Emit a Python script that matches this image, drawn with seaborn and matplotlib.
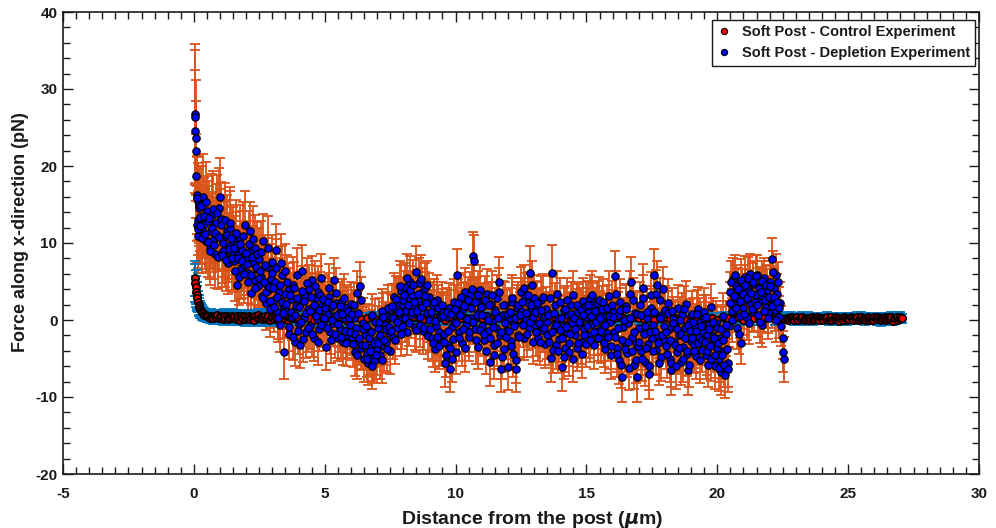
import matplotlib
matplotlib.use("Agg")
import matplotlib.pyplot as plt
from matplotlib.ticker import MultipleLocator
from matplotlib.lines import Line2D
import seaborn as sns

# ---------------- depletion experiment ----------------
depl_x = [
    0.04, 0.05, 0.06, 0.07, 0.09, 0.10, 0.12, 0.14, 0.16, 0.18,
    0.20, 0.25, 0.30, 0.35, 0.40, 0.45, 0.50,
    0.55, 0.60, 0.65, 0.70, 0.75, 0.80, 0.85, 0.90, 0.95, 1.00,
    1.05, 1.10, 1.15, 1.20, 1.25, 1.30, 1.35, 1.40, 1.45, 1.50,
    1.55, 1.60, 1.65, 1.70, 1.75, 1.80, 1.85, 1.90, 1.95, 2.00,
    2.05, 2.10, 2.15, 2.20, 2.25, 2.30, 2.35, 2.40, 2.45, 2.50,
    2.55, 2.60, 2.65, 2.70, 2.75, 2.80, 2.85, 2.90, 2.95, 3.00,
    3.05, 3.10, 3.15, 3.20, 3.25, 3.30, 3.35, 3.40, 3.45, 3.50,
    3.55, 3.60, 3.65, 3.70, 3.75, 3.80, 3.85, 3.90, 3.95, 4.00,
    4.05, 4.10, 4.15, 4.20, 4.25, 4.30, 4.35, 4.40, 4.45, 4.50,
    4.55, 4.60, 4.65, 4.70, 4.75, 4.80, 4.85, 4.90, 4.95, 5.00,
    5.05, 5.10, 5.15, 5.20, 5.25, 5.30, 5.35, 5.40, 5.45, 5.50,
    5.55, 5.60, 5.65, 5.70, 5.75, 5.80, 5.85, 5.90, 5.95, 6.00,
    6.05, 6.10, 6.15, 6.20, 6.25, 6.30, 6.35, 6.40, 6.45, 6.50,
    6.55, 6.60, 6.65, 6.70, 6.75, 6.80, 6.85, 6.90, 6.95, 7.00,
    7.05, 7.10, 7.15, 7.20, 7.25, 7.30, 7.35, 7.40, 7.45, 7.50,
    7.55, 7.60, 7.65, 7.70, 7.75, 7.80, 7.85, 7.90, 7.95, 8.00,
    8.05, 8.10, 8.15, 8.20, 8.25, 8.30, 8.35, 8.40, 8.45, 8.50,
    8.55, 8.60, 8.65, 8.70, 8.75, 8.80, 8.85, 8.90, 8.95, 9.00,
    9.05, 9.10, 9.15, 9.20, 9.25, 9.30, 9.35, 9.40, 9.45, 9.50,
    9.55, 9.60, 9.65, 9.70, 9.75, 9.80, 9.85, 9.90, 9.95, 10.00,
    10.05, 10.10, 10.15, 10.20, 10.25, 10.30, 10.35, 10.40, 10.45, 10.50,
    10.55, 10.60, 10.65, 10.70, 10.75, 10.80, 10.85, 10.90, 10.95, 11.00,
    11.05, 11.10, 11.15, 11.20, 11.25, 11.30, 11.35, 11.40, 11.45, 11.50,
    11.55, 11.60, 11.65, 11.70, 11.75, 11.80, 11.85, 11.90, 11.95, 12.00,
    12.05, 12.10, 12.15, 12.20, 12.25, 12.30, 12.35, 12.40, 12.45, 12.50,
    12.55, 12.60, 12.65, 12.70, 12.75, 12.80, 12.85, 12.90, 12.95, 13.00,
    13.05, 13.10, 13.15, 13.20, 13.25, 13.30, 13.35, 13.40, 13.45, 13.50,
    13.55, 13.60, 13.65, 13.70, 13.75, 13.80, 13.85, 13.90, 13.95, 14.00,
    14.05, 14.10, 14.15, 14.20, 14.25, 14.30, 14.35, 14.40, 14.45, 14.50,
    14.55, 14.60, 14.65, 14.70, 14.75, 14.80, 14.85, 14.90, 14.95, 15.00,
    15.05, 15.10, 15.15, 15.20, 15.25, 15.30, 15.35, 15.40, 15.45, 15.50,
    15.55, 15.60, 15.65, 15.70, 15.75, 15.80, 15.85, 15.90, 15.95, 16.00,
    16.05, 16.10, 16.15, 16.20, 16.25, 16.30, 16.35, 16.40, 16.45, 16.50,
    16.55, 16.60, 16.65, 16.70, 16.75, 16.80, 16.85, 16.90, 16.95, 17.00,
    17.05, 17.10, 17.15, 17.20, 17.25, 17.30, 17.35, 17.40, 17.45, 17.50,
    17.55, 17.60, 17.65, 17.70, 17.75, 17.80, 17.85, 17.90, 17.95, 18.00,
    18.05, 18.10, 18.15, 18.20, 18.25, 18.30, 18.35, 18.40, 18.45, 18.50,
    18.55, 18.60, 18.65, 18.70, 18.75, 18.80, 18.85, 18.90, 18.95, 19.00,
    19.05, 19.10, 19.15, 19.20, 19.25, 19.30, 19.35, 19.40, 19.45, 19.50,
    19.55, 19.60, 19.65, 19.70, 19.75, 19.80, 19.85, 19.90, 19.95, 20.00,
    20.05, 20.10, 20.15, 20.20, 20.25, 20.30, 20.35, 20.40,
    20.45, 20.50, 20.55, 20.60, 20.65, 20.70, 20.75, 20.80, 20.85, 20.90,
    20.95, 21.00, 21.05, 21.10, 21.15, 21.20, 21.25, 21.30, 21.35, 21.40,
    21.45, 21.50, 21.55, 21.60, 21.65, 21.70, 21.75, 21.80, 21.85, 21.90,
    21.95, 22.00, 22.05, 22.10, 22.15, 22.20, 22.25, 22.30, 22.35,
    22.40, 22.45, 22.50, 22.52, 22.55,
    # second bead set
    0.11, 0.13, 0.15, 0.17, 0.225, 0.275, 0.325, 0.375, 0.425, 0.475,
    0.525, 0.575, 0.625, 0.675, 0.725, 0.775, 0.825, 0.875, 0.925, 0.975,
    1.025, 1.075, 1.125, 1.175, 1.225, 1.275, 1.325, 1.375, 1.425, 1.475,
    1.525, 1.575, 1.625, 1.675, 1.725, 1.775, 1.825, 1.875, 1.925, 1.975,
    2.025, 2.075, 2.125, 2.175, 2.225, 2.275, 2.325, 2.375, 2.425, 2.475,
    2.525, 2.575, 2.625, 2.675, 2.725, 2.775, 2.825, 2.875, 2.925, 2.975,
    3.025, 3.075, 3.125, 3.175, 3.225, 3.275, 3.325, 3.375, 3.425, 3.475,
    3.525, 3.575, 3.625, 3.675, 3.725, 3.775, 3.825, 3.875, 3.925, 3.975,
    4.025, 4.075, 4.125, 4.175, 4.225, 4.275, 4.325, 4.375, 4.425, 4.475,
    4.525, 4.575, 4.625, 4.675, 4.725, 4.775, 4.825, 4.875, 4.925, 4.975,
    5.025, 5.075, 5.125, 5.175, 5.225, 5.275, 5.325, 5.375, 5.425, 5.475,
    5.525, 5.575, 5.625, 5.675, 5.725, 5.775, 5.825, 5.875, 5.925, 5.975,
    6.025, 6.075, 6.125, 6.175, 6.225, 6.275, 6.325, 6.375, 6.425, 6.475,
    6.525, 6.575, 6.625, 6.675, 6.725, 6.775, 6.825, 6.875, 6.925, 6.975,
    7.025, 7.075, 7.125, 7.175, 7.225, 7.275, 7.325, 7.375, 7.425, 7.475,
    7.525, 7.575, 7.625, 7.675, 7.725, 7.775, 7.825, 7.875, 7.925, 7.975,
    8.025, 8.075, 8.125, 8.175, 8.225, 8.275, 8.325, 8.375, 8.425, 8.475,
    8.525, 8.575, 8.625, 8.675, 8.725, 8.775, 8.825, 8.875, 8.925, 8.975,
    9.025, 9.075, 9.125, 9.175, 9.225, 9.275, 9.325, 9.375, 9.425, 9.475,
    9.525, 9.575, 9.625, 9.675, 9.725, 9.775, 9.825, 9.875, 9.925, 9.975,
    10.025, 10.075, 10.125, 10.175, 10.225, 10.275, 10.325, 10.375, 10.425, 10.475,
    10.525, 10.575, 10.625, 10.675, 10.725, 10.775, 10.825, 10.875, 10.925, 10.975,
    11.025, 11.075, 11.125, 11.175, 11.225, 11.275, 11.325, 11.375, 11.425, 11.475,
    11.525, 11.575, 11.625, 11.675, 11.725, 11.775, 11.825, 11.875, 11.925, 11.975,
    12.025, 12.075, 12.125, 12.175, 12.225, 12.275, 12.325, 12.375, 12.425, 12.475,
    12.525, 12.575, 12.625, 12.675, 12.725, 12.775, 12.825, 12.875, 12.925, 12.975,
    13.025, 13.075, 13.125, 13.175, 13.225, 13.275, 13.325, 13.375, 13.425, 13.475,
    13.525, 13.575, 13.625, 13.675, 13.725, 13.775, 13.825, 13.875, 13.925, 13.975,
    14.025, 14.075, 14.125, 14.175, 14.225, 14.275, 14.325, 14.375, 14.425, 14.475,
    14.525, 14.575, 14.625, 14.675, 14.725, 14.775, 14.825, 14.875, 14.925, 14.975,
    15.025, 15.075, 15.125, 15.175, 15.225, 15.275, 15.325, 15.375, 15.425, 15.475,
    15.525, 15.575, 15.625, 15.675, 15.725, 15.775, 15.825, 15.875, 15.925, 15.975,
    16.025, 16.075, 16.125, 16.175, 16.225, 16.275, 16.325, 16.375, 16.425, 16.475,
    16.525, 16.575, 16.625, 16.675, 16.725, 16.775, 16.825, 16.875, 16.925, 16.975,
    17.025, 17.075, 17.125, 17.175, 17.225, 17.275, 17.325, 17.375, 17.425, 17.475,
    17.525, 17.575, 17.625, 17.675, 17.725, 17.775, 17.825, 17.875, 17.925, 17.975,
    18.025, 18.075, 18.125, 18.175, 18.225, 18.275, 18.325, 18.375, 18.425, 18.475,
    18.525, 18.575, 18.625, 18.675, 18.725, 18.775, 18.825, 18.875, 18.925, 18.975,
    19.025, 19.075, 19.125, 19.175, 19.225, 19.275, 19.325, 19.375, 19.425, 19.475,
    19.525, 19.575, 19.625, 19.675, 19.725, 19.775, 19.825, 19.875, 19.925, 19.975,
    20.025, 20.075, 20.125, 20.175, 20.225, 20.275, 20.325, 20.375, 20.425,
    20.475, 20.525, 20.575, 20.625, 20.675, 20.725, 20.775, 20.825, 20.875, 20.925, 20.975,
    21.025, 21.075, 21.125, 21.175, 21.225, 21.275, 21.325, 21.375, 21.425, 21.475,
    21.525, 21.575, 21.625, 21.675, 21.725, 21.775, 21.825, 21.875, 21.925, 21.975,
    22.025, 22.075, 22.125, 22.175, 22.225, 22.275, 22.325, 22.375,
]
depl_y = [
    26.8, 26.3, 24.5, 23.7, 22.0, 18.7, 16.2, 15.4, 13.0, 14.6,
    15.0, 13.4, 11.8, 16.0, 12.5, 10.2, 14.2,
    12.8, 9.3, 11.5, 13.7, 10.4, 8.6, 12.6, 11.0, 14.6, 16.0,
    13.1, 9.0, 10.8, 8.2, 11.6, 7.4, 9.6, 11.9, 8.8, 10.3,
    7.6, 9.8, 4.6, 8.4, 10.6, 6.8, 9.1, 7.2, 12.3, 8.0,
    6.1, 8.8, 11.5, 3.5, 7.4, 5.2, 9.3, 6.6, 4.4, 7.9,
    5.6, 3.1, 10.2, 4.8, 2.2, 6.9, 3.9, 1.4, 5.3, 7.5,
    2.6, 4.9, 9.1, 1.1, 3.6, -0.6, 5.8, 2.0, -4.2, 6.3,
    1.2, 3.9, -1.8, 2.7, 0.4, 4.6, -2.9, 1.8, 5.9, -0.5,
    -3.2, 2.3, 6.3, 0.2, 3.1, -1.6, 1.4, 4.0, -0.8, 5.2,
    1.0, -2.4, 2.8, 0.1, 3.7, -1.2, 5.5, 1.9, -0.3, 2.4,
    -3.5, 0.8, 3.0, -1.5, 1.7, -0.4, 5.2, 0.5, 2.2, -2.3,
    0.9, -1.1, 2.5, -2.8, 0.2, 1.6, -1.9, 0.6, -0.7, 2.1,
    -2.2, 0.3, -4.1, -1.0, 3.5, -2.9, 4.4, -3.6, -0.4, -5.1,
    -2.0, -4.4, -5.6, -1.3, -3.5, 0.6, -4.8, -5.3, -2.6, -3.9,
    -1.1, -4.5, -2.3, 1.2, -3.4, -0.6, -2.9, 0.5, -1.7, -4.0,
    0.4, -2.2, 3.0, 1.5, -1.0, 2.4, 0.0, 3.8, -0.8, 1.9,
    4.3, 1.2, -1.6, 2.9, 5.0, 0.7, 3.3, 1.8, -0.9, 6.2,
    2.5, 4.8, 0.4, 3.6, -1.4, 2.0, 4.2, 0.9, -2.1, 3.0,
    0.2, -2.4, 1.8, -3.8, -0.8, 2.6, -1.6, 0.6, -2.9, 1.1,
    -1.8, -5.6, 0.4, -3.2, 1.6, -6.3, -0.9, -2.5, 2.3, -4.1,
    5.9, 0.8, -1.5, 2.7, -3.0, 1.4, 3.6, -0.6, 2.0, -2.2,
    3.2, 0.3, 8.3, 7.7, -1.2, 2.5, -3.5, 1.0, 3.9, -0.8,
    1.8, -2.6, 0.5, 3.4, -1.4, -5.5, 2.1, -0.3, -3.2, 1.3,
    -1.0, 2.8, 5.0, -2.0, -6.3, 0.7, -3.8, 1.9, -1.3, -6.1,
    0.2, -2.7, 2.4, -4.4, -0.5, -6.3, 1.5, -1.9, 0.9, 3.7,
    1.2, -2.3, 3.0, 0.0, 2.2, -1.0, 6.1, 1.6, -2.8, 2.8,
    -0.6, 1.8, -2.4, 0.9, 2.6, -1.3, 0.3, -3.1, 1.4, -0.2,
    -2.0, 0.8, -4.9, 6.1, -1.1, 1.9, -3.3, 0.1, -2.5, 2.4,
    -6.1, -0.8, 1.3, -3.6, -1.5, 0.6, -4.2, 2.0, -0.4, 3.3,
    -1.9, 0.9, -3.7, 1.7, -0.6, -2.8, 2.5, -1.2, 0.4, -3.1,
    1.1, -2.0, 2.8, -0.5, 1.9, -3.2, 0.2, 2.2, -1.4, 0.8,
    -2.5, 1.4, -0.9, -3.8, 0.5, -1.7, 3.1, -0.3, -4.5, 1.0,
    -1.5, 5.7, -3.6, 0.6, -5.2, 2.4, -7.4, -0.9, -2.8, 1.8,
    -4.3, -0.4, 3.4, 5.0, -2.2, -5.8, 0.9, -3.0, -7.4, -1.1,
    2.0, -4.0, 4.1, -1.8, -5.5, 0.2, -3.1, -7.0, 1.5, -2.4,
    -0.6, 5.9, -3.9, 4.5, -1.9, 2.6, -4.8, 0.7, -2.6, 1.3,
    -3.4, 2.2, -1.2, -5.0, -6.5, 0.1, -2.9, -0.8, -4.1, 1.5,
    -2.0, -5.4, 0.6, -3.5, -1.1, 2.1, -4.4, -6.5, -0.3, -2.7,
    0.8, -3.3, -1.0, -4.7, 1.4, -2.2, -0.2, -3.9, -1.6, 0.3,
    -4.6, -1.9, -5.8, -0.7, 1.7, -3.0, -2.1, -6.0, -0.4, -3.6,
    -5.1, -2.4, -6.8, 0.5, -4.0, -7.1, -1.8, -5.6,
    -0.8, 3.6, 1.2, 5.3, 2.0, 4.4, -1.1, 2.9, 0.5, -3.0,
    4.0, 1.6, 5.6, 2.6, 0.2, 3.8, 6.0, 2.1, 4.7, 1.0,
    3.2, 5.9, 0.6, 2.4, 4.3, -0.7, 3.0, 5.5, 1.7, 3.9,
    0.9, 5.0, 2.7, 7.9, 4.2, 1.3, 5.8, 3.4, 0.4,
    2.2, -0.8, -2.3, -4.1, -5.1,
    # second bead set
    15.8, 12.4, 10.9, 11.8, 12.2, 14.8, 10.6, 13.5, 11.2, 15.3,
    10.1, 13.2, 8.9, 12.0, 14.4, 9.7, 11.3, 13.9, 8.2, 10.8,
    12.4, 8.5, 10.0, 13.0, 7.8, 11.1, 9.2, 12.6, 10.6, 8.0,
    9.4, 6.3, 11.3, 8.1, 5.6, 9.9, 7.7, 10.9, 6.0, 8.7,
    7.3, 4.9, 9.9, 5.8, 8.2, 10.5, 4.1, 6.9, 8.6, 5.5,
    6.4, 8.8, 2.9, 5.0, 7.1, 3.6, 9.4, 4.3, 2.5, 6.1,
    4.2, 1.7, 6.8, 3.0, 0.3, 4.5, 7.4, 2.3, 0.9, 3.4,
    2.1, 5.0, -0.9, 3.3, 1.0, -2.2, 4.1, 0.6, 2.9, -1.4,
    1.7, -0.2, 3.8, -2.5, 2.5, 0.9, 4.8, -1.1, 1.2, 3.0,
    -1.8, 2.0, 4.4, 0.5, -2.9, 1.3, 3.2, -0.6, 2.7, 0.2,
    1.6, -1.0, 2.3, 4.1, -2.6, 0.0, 1.9, -1.8, 3.5, 0.7,
    -0.5, 1.8, -2.2, 0.8, 2.9, -1.4, -3.0, 1.2, 0.3, -1.6,
    0.8, -3.1, 1.9, -1.8, -4.6, 0.9, -2.4, 2.6, -3.3, -1.2,
    -3.2, -0.8, -5.0, -2.3, -4.0, -1.6, -6.0, -3.0, -0.2, -4.6,
    -3.0, -0.3, -2.0, -5.2, 0.4, -2.6, -1.2, -3.8, 1.6, -0.9,
    -1.4, 1.8, 0.2, -2.6, 2.7, -0.2, 1.1, 4.4, -1.8, 2.6,
    3.2, 0.2, 5.4, 2.0, -0.4, 3.9, 1.1, 4.6, 2.4, -1.3,
    1.2, 3.4, -0.6, 5.3, 1.7, -1.0, 3.1, 2.2, 4.5, 0.0,
    -1.2, 1.0, -3.0, 2.3, -0.1, -2.2, 1.5, -3.4, 0.4, 2.0,
    0.5, -2.8, -4.5, 1.1, -1.4, -3.6, 0.8, -5.0, -0.3, 1.4,
    -0.4, 2.2, -2.4, 0.6, 3.0, -1.2, 1.8, -3.6, 0.1, 2.6,
    -1.6, 1.6, 4.0, -0.2, 2.3, -2.6, 0.6, 3.3, -1.3, 1.7,
    0.6, -1.8, 2.6, -4.0, 0.0, 1.9, -2.4, 3.2, -0.9, -4.6,
    1.1, -3.0, 0.2, 3.6, -1.6, -4.8, 2.0, -0.4, -2.2, 0.8,
    -1.4, 1.0, -3.4, 2.9, -0.8, 0.3, -5.2, 1.9, -2.2, 0.7,
    2.4, -0.6, 4.2, 0.9, -1.8, 3.3, -0.2, 2.0, 4.6, 0.4,
    1.0, -1.6, 2.2, -0.4, -2.8, 1.3, 3.0, -1.0, 0.5, -2.0,
    0.6, -2.8, 2.8, -1.6, -3.9, 0.9, -0.6, 3.4, -4.0, -1.3,
    0.2, -2.4, -4.8, 1.4, -0.9, 2.6, -3.0, -1.8, 0.8, -5.0,
    0.3, -1.2, 2.0, -3.0, -0.2, 1.3, -4.4, 0.7, -1.9, 1.8,
    -0.8, 2.0, -2.6, 0.5, 3.3, -1.6, 1.2, -0.2, -2.4, 2.6,
    0.2, -1.4, 2.4, -3.0, -0.6, 1.6, -2.2, 0.5, -3.4, 2.0,
    0.4, -2.2, 3.4, -4.4, -1.0, 1.3, -5.8, -2.6, 0.0, -3.8,
    1.4, -2.8, -6.2, 0.2, -4.0, 2.6, -1.6, -5.2, 0.8, -3.4,
    -2.8, 0.6, -5.0, 2.9, -0.8, -3.6, 1.0, -6.0, -1.6, 3.2,
    -4.0, 1.0, -1.4, 3.4, -3.0, -5.6, 0.2, -2.0, 4.0, -0.8,
    -1.6, -4.4, 0.9, -2.6, -5.6, 1.2, -0.4, -3.2, -6.0, -1.2,
    -3.6, 0.0, -1.8, -5.0, 1.4, -2.4, -4.0, -0.6, -5.8, -1.4,
    -2.4, -0.2, -4.0, -1.4, 0.8, -3.0, -5.2, -0.8, -2.6, 1.1,
    -2.8, 0.4, -4.0, -1.2, -3.4, -5.0, -0.2, -2.4, -4.6, -1.0,
    -3.0, -6.2, -1.2, -4.6, -2.6, -5.8, -0.6, -3.8, -6.4,
    2.2, 5.0, 0.0, 3.1, 5.8, 1.6, 4.0, -1.8, 2.5, 5.2, 3.4,
    0.8, 4.5, 2.9, 5.4, -0.4, 3.5, 1.4, 4.9, 2.3, 5.7,
    2.0, 4.1, -0.2, 3.6, 5.1, 1.2, 2.6, 4.6, 0.3, 3.0,
    4.4, 1.8, 6.2, 3.0, 0.0, 2.4, 4.9, 1.5,
]
depl_err = [
    9.0, 8.8, 8.0, 7.5, 6.5, 5.5, 5.0, 5.0, 4.5, 5.0,
    5.0, 4.5, 4.5, 5.5, 4.5, 4.0, 4.5,
    4.6, 4.0, 4.8, 5.2, 4.2, 4.5, 5.0, 4.4, 5.1, 5.0,
    4.8, 4.2, 4.5, 3.9, 4.6, 4.0, 4.3, 4.9, 3.8, 4.4,
    4.0, 4.2, 4.6, 3.8, 4.4, 4.1, 3.7, 4.3, 4.5, 3.9,
    3.9, 4.1, 3.8, 4.2, 3.6, 4.0, 4.3, 3.7, 3.9, 4.0,
    3.7, 3.9, 3.6, 4.0, 3.5, 3.8, 3.4, 3.6, 3.9, 3.5,
    3.5, 3.7, 3.4, 3.6, 3.3, 3.5, 3.8, 3.2, 3.4, 3.6,
    3.3, 3.5, 3.2, 3.4, 3.0, 3.6, 3.1, 3.3, 3.5, 3.2,
    3.0, 3.2, 3.4, 2.9, 3.1, 3.3, 2.8, 3.2, 3.0, 3.1,
    3.1, 2.9, 3.2, 3.0, 3.3, 2.8, 3.1, 3.0, 2.9, 3.2,
    3.0, 2.8, 3.1, 2.9, 3.2, 3.0, 2.9, 3.1, 2.8, 3.0,
    2.9, 3.1, 2.8, 3.0, 3.2, 2.9, 3.0, 2.8, 3.1, 2.9,
    3.0, 2.9, 3.2, 3.1, 2.8, 3.0, 3.1, 2.9, 3.2, 3.0,
    3.1, 3.0, 2.9, 3.2, 3.0, 2.8, 3.1, 2.9, 3.0, 3.2,
    2.9, 3.1, 3.0, 2.8, 3.2, 2.9, 3.0, 3.1, 2.8, 3.0,
    3.0, 2.9, 3.1, 3.2, 2.8, 3.0, 2.9, 3.3, 3.0, 3.1,
    3.1, 3.0, 2.9, 3.2, 3.3, 3.0, 3.1, 2.9, 3.0, 3.4,
    3.0, 3.2, 2.9, 3.1, 3.0, 2.8, 3.2, 3.0, 2.9, 3.1,
    3.0, 2.9, 3.1, 3.0, 2.8, 3.2, 2.9, 3.0, 3.1, 2.9,
    3.0, 3.1, 2.9, 3.0, 3.2, 3.0, 2.8, 3.1, 3.0, 2.9,
    3.3, 3.0, 2.9, 3.1, 3.0, 2.8, 3.2, 2.9, 3.0, 3.1,
    3.0, 2.9, 3.1, 3.4, 3.0, 3.1, 2.9, 3.0, 3.2, 2.9,
    3.0, 3.1, 2.9, 3.2, 3.0, 3.1, 2.9, 3.0, 3.1, 2.8,
    3.0, 3.1, 3.2, 2.9, 3.0, 3.1, 2.9, 3.0, 3.1, 3.0,
    2.9, 3.0, 3.1, 3.0, 2.9, 3.1, 3.0, 2.9, 3.1, 3.2,
    3.0, 2.9, 3.1, 3.0, 3.2, 2.9, 3.5, 3.0, 2.9, 3.1,
    3.0, 3.1, 2.9, 3.0, 3.1, 2.9, 3.0, 3.1, 2.9, 3.0,
    3.0, 2.9, 3.1, 3.6, 3.0, 2.9, 3.1, 3.0, 2.9, 3.1,
    3.1, 3.0, 2.9, 3.1, 3.0, 2.9, 3.1, 3.0, 2.9, 3.1,
    3.0, 3.1, 2.9, 3.0, 3.1, 2.9, 3.0, 3.1, 2.9, 3.0,
    3.0, 2.9, 3.1, 3.0, 2.9, 3.1, 3.0, 2.9, 3.1, 3.0,
    3.1, 3.0, 2.9, 3.1, 3.0, 2.9, 3.2, 3.0, 3.1, 2.9,
    3.0, 3.3, 3.1, 3.0, 3.1, 2.9, 3.2, 3.0, 3.1, 2.9,
    3.1, 3.0, 2.9, 3.2, 3.0, 3.1, 2.9, 3.0, 3.2, 3.0,
    3.0, 3.1, 3.2, 3.0, 3.1, 2.9, 3.0, 3.2, 2.9, 3.0,
    3.0, 3.3, 3.1, 3.2, 3.0, 2.9, 3.1, 3.0, 2.9, 3.1,
    3.0, 3.1, 2.9, 3.0, 3.2, 2.9, 3.0, 3.1, 2.9, 3.0,
    3.0, 3.1, 2.9, 3.0, 3.1, 3.0, 2.9, 3.2, 3.0, 2.9,
    3.0, 2.9, 3.1, 3.0, 2.9, 3.1, 3.0, 2.9, 3.1, 3.0,
    3.1, 3.0, 2.9, 3.1, 3.0, 2.9, 3.1, 3.0, 2.9, 3.1,
    3.0, 3.1, 2.9, 3.0, 3.1, 3.0, 2.9, 3.1,
    2.7, 2.6, 2.8, 2.7, 2.6, 2.8, 2.7, 2.6, 2.8, 2.7,
    2.6, 2.8, 2.7, 2.6, 2.8, 2.7, 2.6, 2.8, 2.7, 2.6,
    2.7, 2.6, 2.8, 2.7, 2.6, 2.8, 2.7, 2.6, 2.8, 2.7,
    2.6, 2.7, 2.8, 2.8, 2.6, 2.7, 2.8, 2.6, 2.7,
    2.7, 2.6, 2.8, 2.7, 2.9,
    # second bead set
    5.5, 5.0, 4.8, 5.0, 4.8, 5.2, 4.5, 5.0, 4.6, 5.2,
    4.5, 4.8, 4.3, 4.6, 5.0, 4.4, 4.7, 4.9, 4.2, 4.5,
    4.6, 4.2, 4.4, 4.8, 4.0, 4.5, 4.2, 4.7, 4.3, 4.1,
    4.1, 3.8, 4.3, 4.0, 3.7, 4.2, 3.9, 4.4, 3.8, 4.0,
    4.0, 3.7, 4.2, 3.8, 4.0, 4.3, 3.6, 3.9, 4.1, 3.8,
    3.8, 4.0, 3.5, 3.7, 3.9, 3.6, 4.1, 3.7, 3.5, 3.8,
    3.6, 3.3, 3.7, 3.4, 3.2, 3.5, 3.8, 3.3, 3.2, 3.4,
    3.3, 3.5, 3.1, 3.4, 3.2, 3.0, 3.4, 3.1, 3.3, 3.0,
    3.1, 2.9, 3.2, 3.0, 3.1, 2.9, 3.3, 3.0, 2.9, 3.1,
    3.0, 3.1, 3.2, 2.9, 3.0, 3.1, 3.0, 2.9, 3.1, 3.0,
    3.0, 2.9, 3.1, 3.2, 3.0, 2.9, 3.0, 3.1, 3.2, 2.9,
    3.0, 3.1, 2.9, 3.0, 3.1, 2.9, 3.0, 3.1, 2.9, 3.0,
    3.1, 3.0, 2.9, 3.1, 3.0, 2.9, 3.1, 3.0, 3.1, 2.9,
    3.0, 2.9, 3.1, 3.0, 3.2, 2.9, 3.0, 3.1, 2.9, 3.0,
    3.0, 3.1, 2.9, 3.0, 3.1, 2.9, 3.0, 3.1, 2.9, 3.0,
    3.1, 2.9, 3.0, 3.1, 3.0, 2.9, 3.1, 3.2, 2.9, 3.0,
    3.1, 3.0, 3.2, 2.9, 3.0, 3.1, 2.9, 3.2, 3.0, 2.9,
    3.0, 3.1, 2.9, 3.2, 3.0, 2.9, 3.1, 3.0, 3.1, 2.9,
    3.0, 2.9, 3.1, 3.0, 2.9, 3.1, 3.0, 2.9, 3.1, 3.0,
    3.1, 3.0, 2.9, 3.1, 3.0, 2.9, 3.1, 3.0, 2.9, 3.1,
    3.0, 3.1, 2.9, 3.0, 3.1, 2.9, 3.0, 3.1, 2.9, 3.0,
    3.1, 3.0, 3.2, 2.9, 3.0, 3.1, 2.9, 3.0, 3.1, 3.0,
    3.0, 2.9, 3.1, 3.0, 2.9, 3.1, 3.0, 3.1, 2.9, 3.0,
    3.1, 3.0, 2.9, 3.1, 3.0, 2.9, 3.1, 3.0, 2.9, 3.1,
    3.0, 3.1, 2.9, 3.0, 3.1, 2.9, 3.0, 3.1, 2.9, 3.0,
    3.1, 2.9, 3.0, 3.1, 3.0, 2.9, 3.1, 3.0, 3.1, 2.9,
    3.0, 3.1, 2.9, 3.0, 3.1, 2.9, 3.0, 3.1, 2.9, 3.0,
    3.1, 3.0, 2.9, 3.1, 3.0, 2.9, 3.1, 3.0, 2.9, 3.1,
    3.0, 3.1, 2.9, 3.0, 3.1, 2.9, 3.0, 3.1, 2.9, 3.0,
    3.1, 3.0, 2.9, 3.1, 3.0, 2.9, 3.1, 3.0, 2.9, 3.1,
    3.0, 3.1, 2.9, 3.0, 3.1, 2.9, 3.0, 3.1, 2.9, 3.0,
    3.1, 3.0, 2.9, 3.1, 3.0, 2.9, 3.1, 3.0, 2.9, 3.1,
    3.0, 3.1, 2.9, 3.0, 3.1, 2.9, 3.0, 3.1, 2.9, 3.0,
    3.1, 3.0, 2.9, 3.1, 3.0, 2.9, 3.1, 3.0, 2.9, 3.1,
    3.0, 3.1, 2.9, 3.0, 3.1, 2.9, 3.0, 3.1, 2.9, 3.0,
    3.1, 3.0, 2.9, 3.1, 3.0, 2.9, 3.1, 3.0, 2.9, 3.1,
    3.0, 3.1, 2.9, 3.0, 3.1, 2.9, 3.0, 3.1, 2.9, 3.0,
    3.1, 3.0, 2.9, 3.1, 3.0, 2.9, 3.1, 3.0, 2.9, 3.1,
    3.0, 3.1, 2.9, 3.0, 3.1, 2.9, 3.0, 3.1, 2.9, 3.0,
    3.0, 2.9, 3.1, 3.0, 3.1, 2.9, 3.0, 3.1, 2.9, 3.0,
    3.1, 3.0, 2.9, 3.1, 3.0, 2.9, 3.1, 3.0, 2.9,
    2.7, 2.6, 2.8, 2.7, 2.6, 2.8, 2.7, 2.6, 2.8, 2.7, 2.6,
    2.8, 2.7, 2.6, 2.8, 2.7, 2.6, 2.8, 2.7, 2.6, 2.8,
    2.7, 2.6, 2.8, 2.7, 2.6, 2.8, 2.7, 2.6, 2.8, 2.7,
    2.6, 2.8, 2.7, 2.6, 2.8, 2.7, 2.6, 2.8,
]

# ---------------- control experiment ----------------
ctrl_x = [
    0.03, 0.05, 0.07, 0.09, 0.11, 0.13, 0.15, 0.18, 0.21, 0.24,
    0.27, 0.30, 0.35, 0.40, 0.45, 0.50,
    0.55, 0.60, 0.65, 0.70, 0.75, 0.80, 0.85, 0.90, 0.95, 1.00,
    1.05, 1.10, 1.15, 1.20, 1.25, 1.30, 1.35, 1.40, 1.45, 1.50,
    1.55, 1.60, 1.65, 1.70, 1.75, 1.80, 1.85, 1.90, 1.95, 2.00,
    2.05, 2.10, 2.15, 2.20, 2.25, 2.30, 2.35, 2.40, 2.45, 2.50,
    2.55, 2.60, 2.65, 2.70, 2.75, 2.80, 2.85, 2.90, 2.95, 3.00,
    3.05, 3.10, 3.15, 3.20, 3.25, 3.30, 3.35, 3.40, 3.45, 3.50,
    3.55, 3.60, 3.65, 3.70,
    3.8, 4.0, 4.2, 4.4, 4.6, 4.8, 5.0, 5.2, 5.4, 5.6,
    5.8, 6.0, 6.2, 6.4, 6.6, 6.8, 7.0, 7.2, 7.4, 7.6,
    7.8, 8.0, 8.2, 8.4, 8.6, 8.8, 9.0, 9.2, 9.4, 9.6,
    9.8, 10.0, 10.2, 10.4, 10.6, 10.8, 11.0, 11.2, 11.4, 11.6,
    11.8, 12.0, 12.2, 12.4, 12.6, 12.8, 13.0, 13.2, 13.4, 13.6,
    13.8, 14.0, 14.2, 14.4, 14.6, 14.8, 15.0, 15.2, 15.4, 15.6,
    15.8, 16.0, 16.2, 16.4, 16.6, 16.8, 17.0, 17.2, 17.4, 17.6,
    17.8, 18.0, 18.2, 18.4, 18.6, 18.8, 19.0, 19.2, 19.4, 19.6,
    19.8, 20.0, 20.2, 20.4, 20.6, 20.8, 21.0, 21.2, 21.4, 21.6,
    21.8, 22.0, 22.2, 22.4,
    22.60, 22.65, 22.70, 22.75, 22.80, 22.85, 22.90, 22.95, 23.00, 23.05,
    23.10, 23.15, 23.20, 23.25, 23.30, 23.35, 23.40, 23.45, 23.50, 23.55,
    23.60, 23.65, 23.70, 23.75, 23.80, 23.85, 23.90, 23.95, 24.00, 24.05,
    24.10, 24.15, 24.20, 24.25, 24.30, 24.35, 24.40, 24.45, 24.50, 24.55,
    24.60, 24.65, 24.70, 24.75, 24.80, 24.85, 24.90, 24.95, 25.00, 25.05,
    25.10, 25.15, 25.20, 25.25, 25.30, 25.35, 25.40, 25.45, 25.50, 25.55,
    25.60, 25.65, 25.70, 25.75, 25.80, 25.85, 25.90, 25.95, 26.00, 26.05,
    26.10, 26.15, 26.20, 26.25, 26.30, 26.35, 26.40, 26.45, 26.50, 26.55,
    26.60, 26.65, 26.70, 26.75, 26.80, 26.85, 26.90, 26.95, 27.00, 27.05,
]
ctrl_y = [
    5.4, 4.8, 4.3, 3.7, 3.2, 2.8, 2.4, 2.0, 1.7, 1.4,
    1.2, 1.0, 0.85, 0.7, 0.62, 0.55,
    0.50, 0.30, 0.58, 0.45, 0.20, 0.52, 0.36, 0.60, 0.25, 0.47,
    0.35, 0.10, 0.55, 0.32, 0.48, 0.15, 0.44, 0.28, 0.57, 0.22,
    0.40, 0.12, 0.50, 0.30, 0.05, 0.46, 0.26, 0.53, 0.18, 0.38,
    0.28, 0.55, 0.10, 0.42, 0.33, 0.02, 0.48, 0.24, 0.60, 0.20,
    0.36, 0.08, 0.45, 0.58, 0.15, 0.32, 0.50, 0.04, 0.40, 0.27,
    0.18, 0.52, 0.30, 0.06, 0.44, 0.12, 0.38, 0.25, 0.55, 0.16,
    0.34, 0.00, 0.42, 0.22,
    0.30, 0.10, 0.45, 0.25, 0.05, 0.40, 0.20, 0.50, 0.15, 0.35,
    0.00, 0.30, 0.45, 0.10, 0.25, 0.40, 0.05, 0.35, 0.20, 0.50,
    0.15, 0.30, 0.00, 0.45, 0.25, 0.10, 0.40, 0.20, 0.35, 0.05,
    0.45, 0.15, 0.30, 0.25, 0.00, 0.40, 0.20, 0.50, 0.10, 0.35,
    0.25, 0.05, 0.45, 0.15, 0.30, 0.40, 0.00, 0.25, 0.35, 0.10,
    0.45, 0.20, 0.30, 0.05, 0.40, 0.15, 0.35, 0.25, 0.00, 0.50,
    0.20, 0.10, 0.40, 0.30, 0.05, 0.45, 0.25, 0.15, 0.35, 0.00,
    0.30, 0.45, 0.10, 0.25, 0.40, 0.05, 0.35, 0.20, 0.50, 0.15,
    0.25, 0.05, 0.40, 0.30, 0.15, 0.45, 0.00, 0.35, 0.20, 0.10,
    0.30, 0.40, 0.15, 0.25,
    0.15, 0.30, 0.05, 0.25, 0.35, 0.10, 0.30, 0.00, 0.20, 0.35,
    0.05, 0.25, 0.15, 0.40, -0.05, 0.30, 0.10, 0.30, 0.05, 0.20,
    0.35, 0.00, 0.25, 0.10, 0.35, 0.15, -0.05, 0.30, 0.20, 0.05,
    0.30, 0.15, 0.40, 0.00, 0.25, 0.35, 0.05, 0.30, 0.10, 0.35,
    0.20, -0.10, 0.30, 0.15, 0.05, 0.35, 0.25, 0.00, 0.30, 0.10,
    0.35, 0.20, 0.05, 0.30, 0.15, 0.40, 0.00, 0.25, 0.35, 0.10,
    0.30, -0.05, 0.20, 0.35, 0.05, 0.30, 0.15, 0.00, 0.35, 0.25,
    0.10, 0.40, 0.20, -0.05, 0.30, 0.25, 0.35, 0.05, 0.30, 0.40,
    0.15, 0.35, -0.10, 0.30, 0.25, 0.40, 0.05, 0.30, 0.35, 0.20,
]
ctrl_err = [
    2.3, 2.5, 2.2, 2.0, 1.8, 1.6, 1.4, 1.3, 1.2, 1.1,
    1.0, 0.95, 0.9, 0.85, 0.8, 0.8,
    0.8, 0.7, 0.9, 0.8, 0.7, 0.8, 0.9, 0.7, 0.8, 0.8,
    0.7, 0.8, 0.9, 0.7, 0.8, 0.8, 0.7, 0.9, 0.8, 0.7,
    0.8, 0.7, 0.8, 0.9, 0.7, 0.8, 0.8, 0.7, 0.9, 0.8,
    0.7, 0.8, 0.8, 0.7, 0.9, 0.8, 0.7, 0.8, 0.8, 0.7,
    0.8, 0.9, 0.7, 0.8, 0.8, 0.7, 0.9, 0.8, 0.7, 0.8,
    0.8, 0.7, 0.9, 0.8, 0.7, 0.8, 0.8, 0.7, 0.9, 0.8,
    0.7, 0.8, 0.8, 0.7,
    0.7, 0.8, 0.6, 0.7, 0.8, 0.7, 0.6, 0.8, 0.7, 0.7,
    0.8, 0.6, 0.7, 0.8, 0.7, 0.6, 0.7, 0.8, 0.7, 0.6,
    0.7, 0.8, 0.6, 0.7, 0.7, 0.8, 0.6, 0.7, 0.8, 0.7,
    0.6, 0.7, 0.8, 0.7, 0.6, 0.7, 0.8, 0.6, 0.7, 0.7,
    0.8, 0.6, 0.7, 0.8, 0.7, 0.6, 0.7, 0.8, 0.7, 0.6,
    0.7, 0.8, 0.6, 0.7, 0.7, 0.8, 0.6, 0.7, 0.8, 0.7,
    0.6, 0.7, 0.8, 0.7, 0.6, 0.7, 0.8, 0.6, 0.7, 0.7,
    0.8, 0.6, 0.7, 0.8, 0.7, 0.6, 0.7, 0.8, 0.7, 0.6,
    0.7, 0.8, 0.6, 0.7, 0.7, 0.8, 0.6, 0.7, 0.8, 0.7,
    0.6, 0.7, 0.8, 0.7,
    0.6, 0.7, 0.5, 0.6, 0.7, 0.6, 0.5, 0.7, 0.6, 0.6,
    0.7, 0.5, 0.6, 0.7, 0.6, 0.5, 0.6, 0.7, 0.6, 0.5,
    0.6, 0.7, 0.5, 0.6, 0.6, 0.7, 0.5, 0.6, 0.7, 0.6,
    0.5, 0.6, 0.7, 0.6, 0.5, 0.6, 0.7, 0.5, 0.6, 0.6,
    0.7, 0.5, 0.6, 0.7, 0.6, 0.5, 0.6, 0.7, 0.6, 0.5,
    0.6, 0.7, 0.5, 0.6, 0.6, 0.7, 0.5, 0.6, 0.7, 0.6,
    0.5, 0.6, 0.7, 0.6, 0.5, 0.6, 0.7, 0.5, 0.6, 0.6,
    0.7, 0.5, 0.6, 0.7, 0.6, 0.5, 0.6, 0.7, 0.6, 0.5,
    0.6, 0.7, 0.5, 0.6, 0.6, 0.7, 0.5, 0.6, 0.7, 0.6,
]

legend_labels = ["Soft Post - Control Experiment", "Soft Post - Depletion Experiment"]
x_label = r"Distance from the post ($\mu$m)"
y_label = "Force along x-direction (pN)"

ORANGE = "#D95319"
BLUE_ERR = "#0072BD"
INK = "#1a1a1a"

sns.set_style("ticks")
plt.rcParams["font.family"] = ["Liberation Sans", "DejaVu Sans"]
plt.rcParams["font.weight"] = "bold"
plt.rcParams["axes.labelweight"] = "bold"
plt.rcParams["mathtext.fontset"] = "dejavusans"
plt.rcParams["axes.unicode_minus"] = False
plt.rcParams["text.color"] = INK
plt.rcParams["axes.labelcolor"] = INK
plt.rcParams["xtick.color"] = INK
plt.rcParams["ytick.color"] = INK

fig = plt.figure(figsize=(9.96, 5.28), dpi=100)
ax = fig.add_axes([63 / 996, 54 / 528, 916 / 996, 462 / 528])

# error bars: depletion under control
ax.errorbar(depl_x, depl_y, yerr=depl_err, fmt="none", ecolor=ORANGE,
            elinewidth=1.3, capsize=3.6, capthick=1.3, zorder=2)
ax.errorbar(ctrl_x, ctrl_y, yerr=ctrl_err, fmt="none", ecolor=BLUE_ERR,
            elinewidth=1.3, capsize=3.6, capthick=1.3, zorder=3)

# markers
sns.scatterplot(x=ctrl_x, y=ctrl_y, ax=ax, color="#FF0000", edgecolor="black",
                linewidth=1.2, s=28, legend=False, zorder=4)
sns.scatterplot(x=depl_x, y=depl_y, ax=ax, color="#0000FF", edgecolor="black",
                linewidth=0.9, s=28, legend=False, zorder=5)

ax.set_xlim(-5, 30)
ax.set_ylim(-20, 40)
ax.set_xticks(range(-5, 31, 5))
ax.set_yticks(range(-20, 41, 10))
ax.xaxis.set_minor_locator(MultipleLocator(0.5))
ax.yaxis.set_minor_locator(MultipleLocator(2))
ax.tick_params(which="both", direction="in", top=True, right=True,
               width=1.0, labelsize=11)
ax.tick_params(axis="x", which="both", pad=9)
ax.tick_params(axis="y", which="both", pad=4)
ax.tick_params(which="major", length=7)
ax.tick_params(which="minor", length=5)
for lab in ax.get_xticklabels() + ax.get_yticklabels():
    lab.set_fontweight("bold")
for sp in ax.spines.values():
    sp.set_linewidth(1.2)
    sp.set_color(INK)

ax.set_xlabel(x_label, fontsize=14, fontweight="bold")
ax.set_ylabel(y_label, fontsize=13, fontweight="bold")
ax.xaxis.set_label_coords(0.512, -0.075)
ax.yaxis.set_label_coords(-0.037, 0.524)

handles = [
    Line2D([], [], ls="none", marker="o", markersize=4.5, markerfacecolor="#FF0000",
           markeredgecolor="black", markeredgewidth=0.8),
    Line2D([], [], ls="none", marker="o", markersize=4.5, markerfacecolor="#0000FF",
           markeredgecolor="black", markeredgewidth=0.8),
]
leg = ax.legend(handles, legend_labels, loc="upper right",
                bbox_to_anchor=(975 / 996, 1 - 20 / 528), bbox_transform=fig.transFigure,
                borderaxespad=0, fancybox=False, framealpha=1, edgecolor=INK,
                borderpad=0.35, handlelength=1.0, handletextpad=0.7,
                labelspacing=0.5, prop={"weight": "bold", "size": 10.5})
leg.get_frame().set_linewidth(1.0)

fig.savefig("out.png", dpi=100)
